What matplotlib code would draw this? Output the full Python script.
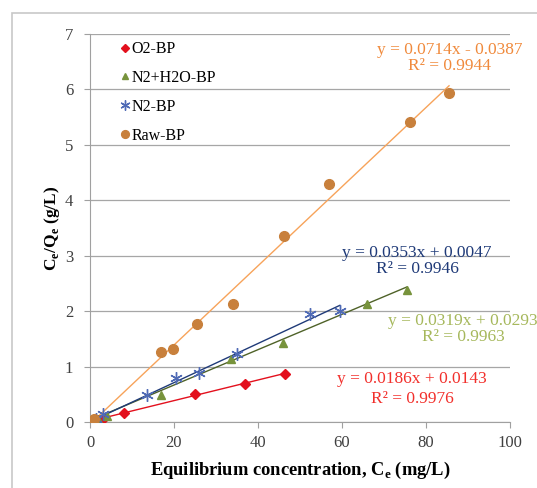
import numpy as np
import matplotlib.pyplot as plt
from matplotlib.patches import Rectangle

plt.rcParams['font.family'] = ['Liberation Serif', 'DejaVu Serif']
plt.rcParams['mathtext.fontset'] = 'custom'
plt.rcParams['mathtext.rm'] = 'Liberation Serif'
plt.rcParams['mathtext.bf'] = 'Liberation Serif:bold'

# 数据 (Ce, Ce/Qe)
o2_x = [0.5, 2, 3, 8, 25, 37, 46.5]
o2_y = [0.01, 0.04, 0.06, 0.16, 0.5, 0.69, 0.87]

nh_x = [0.5, 2, 4, 17, 33.5, 46, 66, 75.5]
nh_y = [0.02, 0.06, 0.1, 0.48, 1.14, 1.42, 2.13, 2.38]

n2_x = [0.5, 1.5, 3, 13.5, 20.5, 26, 35, 52.5, 59.5]
n2_y = [0.02, 0.06, 0.15, 0.48, 0.8, 0.88, 1.22, 1.95, 2.0]

raw_x = [0.5, 1, 17, 19.8, 25.5, 34, 46.3, 57, 76.2, 85.5]
raw_y = [0.02, 0.05, 1.27, 1.31, 1.76, 2.13, 3.36, 4.29, 5.41, 5.94]

# 拟合方程 (斜率, 截距, R2)
fits = {
    'O2-BP': (0.0186, 0.0143, '0.9976'),
    'N2+H2O-BP': (0.0319, 0.0293, '0.9963'),
    'N2-BP': (0.0353, 0.0047, '0.9946'),
    'Raw-BP': (0.0714, -0.0387, '0.9944'),
}

fig = plt.figure(figsize=(5.37, 4.88), dpi=100)
ax = fig.add_axes([0.1676, 0.1352, 0.782, 0.7951])

# 外框
fig.patches.append(Rectangle((12 / 537, -0.1), 1.2, 1 - 13 / 488 + 0.1,
                             transform=fig.transFigure, fill=False,
                             edgecolor='#c8c8c8', linewidth=1.2))

series = [
    ('O2-BP', o2_x, o2_y, 'D', '#e3101d', '#e3101d', '#f2302c', 5),
    ('N2+H2O-BP', nh_x, nh_y, '^', '#77933c', '#4f6228', '#a6b85c', 6),
    ('N2-BP', n2_x, n2_y, (6, 2, 0), '#4f6ab5', '#1f3a78', '#1f3a78', 9),
    ('Raw-BP', raw_x, raw_y, 'o', '#c8803c', '#f7a35a', '#f08a3c', 7),
]

for name, xs, ys, mk, mcol, lcol, tcol, ms in series:
    k, b, r2 = fits[name]
    xl = np.array([min(xs), max(xs)])
    ax.plot(xl, k * xl + b, color=lcol, linewidth=1.0, zorder=2)
    if mk == (6, 2, 0):
        ax.plot(xs, ys, linestyle='none', marker=mk, markersize=ms,
                markeredgecolor=mcol, markeredgewidth=1.0, label=name, zorder=3)
    else:
        ax.plot(xs, ys, linestyle='none', marker=mk, markersize=ms,
                color=mcol, markeredgecolor=mcol, label=name, zorder=3)

# 方程文本
eq_kw = dict(ha='center', va='top', fontsize=12.5, linespacing=1.0)
ax.text(85.7, 6.86, 'y = 0.0714x - 0.0387\nR² = 0.9944', color='#f08a3c', **eq_kw)
ax.text(77.9, 3.2, 'y = 0.0353x + 0.0047\nR² = 0.9946', color='#1f3a78', **eq_kw)
ax.text(88.8, 1.96, 'y = 0.0319x + 0.0293\nR² = 0.9963', color='#a6b85c',
        clip_on=False, **eq_kw)
ax.text(76.7, 0.92, 'y = 0.0186x + 0.0143\nR² = 0.9976', color='#f2302c',
        ha='center', va='top', fontsize=12.5, linespacing=1.3)

ax.set_xlim(0, 100)
ax.set_ylim(0, 7)
ax.set_xticks(np.arange(0, 101, 20))
ax.set_yticks(np.arange(0, 8, 1))
ax.tick_params(labelsize=12, colors='#404040', length=4, width=0.8,
               color='#a0a0a0')
ax.tick_params(axis='y', pad=8)
ax.tick_params(axis='x', pad=5)
ax.yaxis.grid(True, color='#a6a6a6', linewidth=0.9)
ax.set_axisbelow(True)
for s in ['top', 'right']:
    ax.spines[s].set_visible(False)
for s in ['left', 'bottom']:
    ax.spines[s].set_color('#a0a0a0')

ax.set_xlabel('Equilibrium concentration, C$_\\mathbf{e}$ (mg/L)',
              fontsize=13.3, fontweight='bold', labelpad=7)
ax.set_ylabel('C$_\\mathbf{e}$/Q$_\\mathbf{e}$ (g/L)', fontsize=12.5,
              fontweight='bold', labelpad=2)

ax.legend(loc='upper left', bbox_to_anchor=(0.05, 1.006), frameon=False,
          fontsize=11.5, handlelength=0.6, handletextpad=0.1,
          labelspacing=0.8, borderaxespad=0.2, markerscale=0.8)

plt.savefig('out.png', dpi=100)
